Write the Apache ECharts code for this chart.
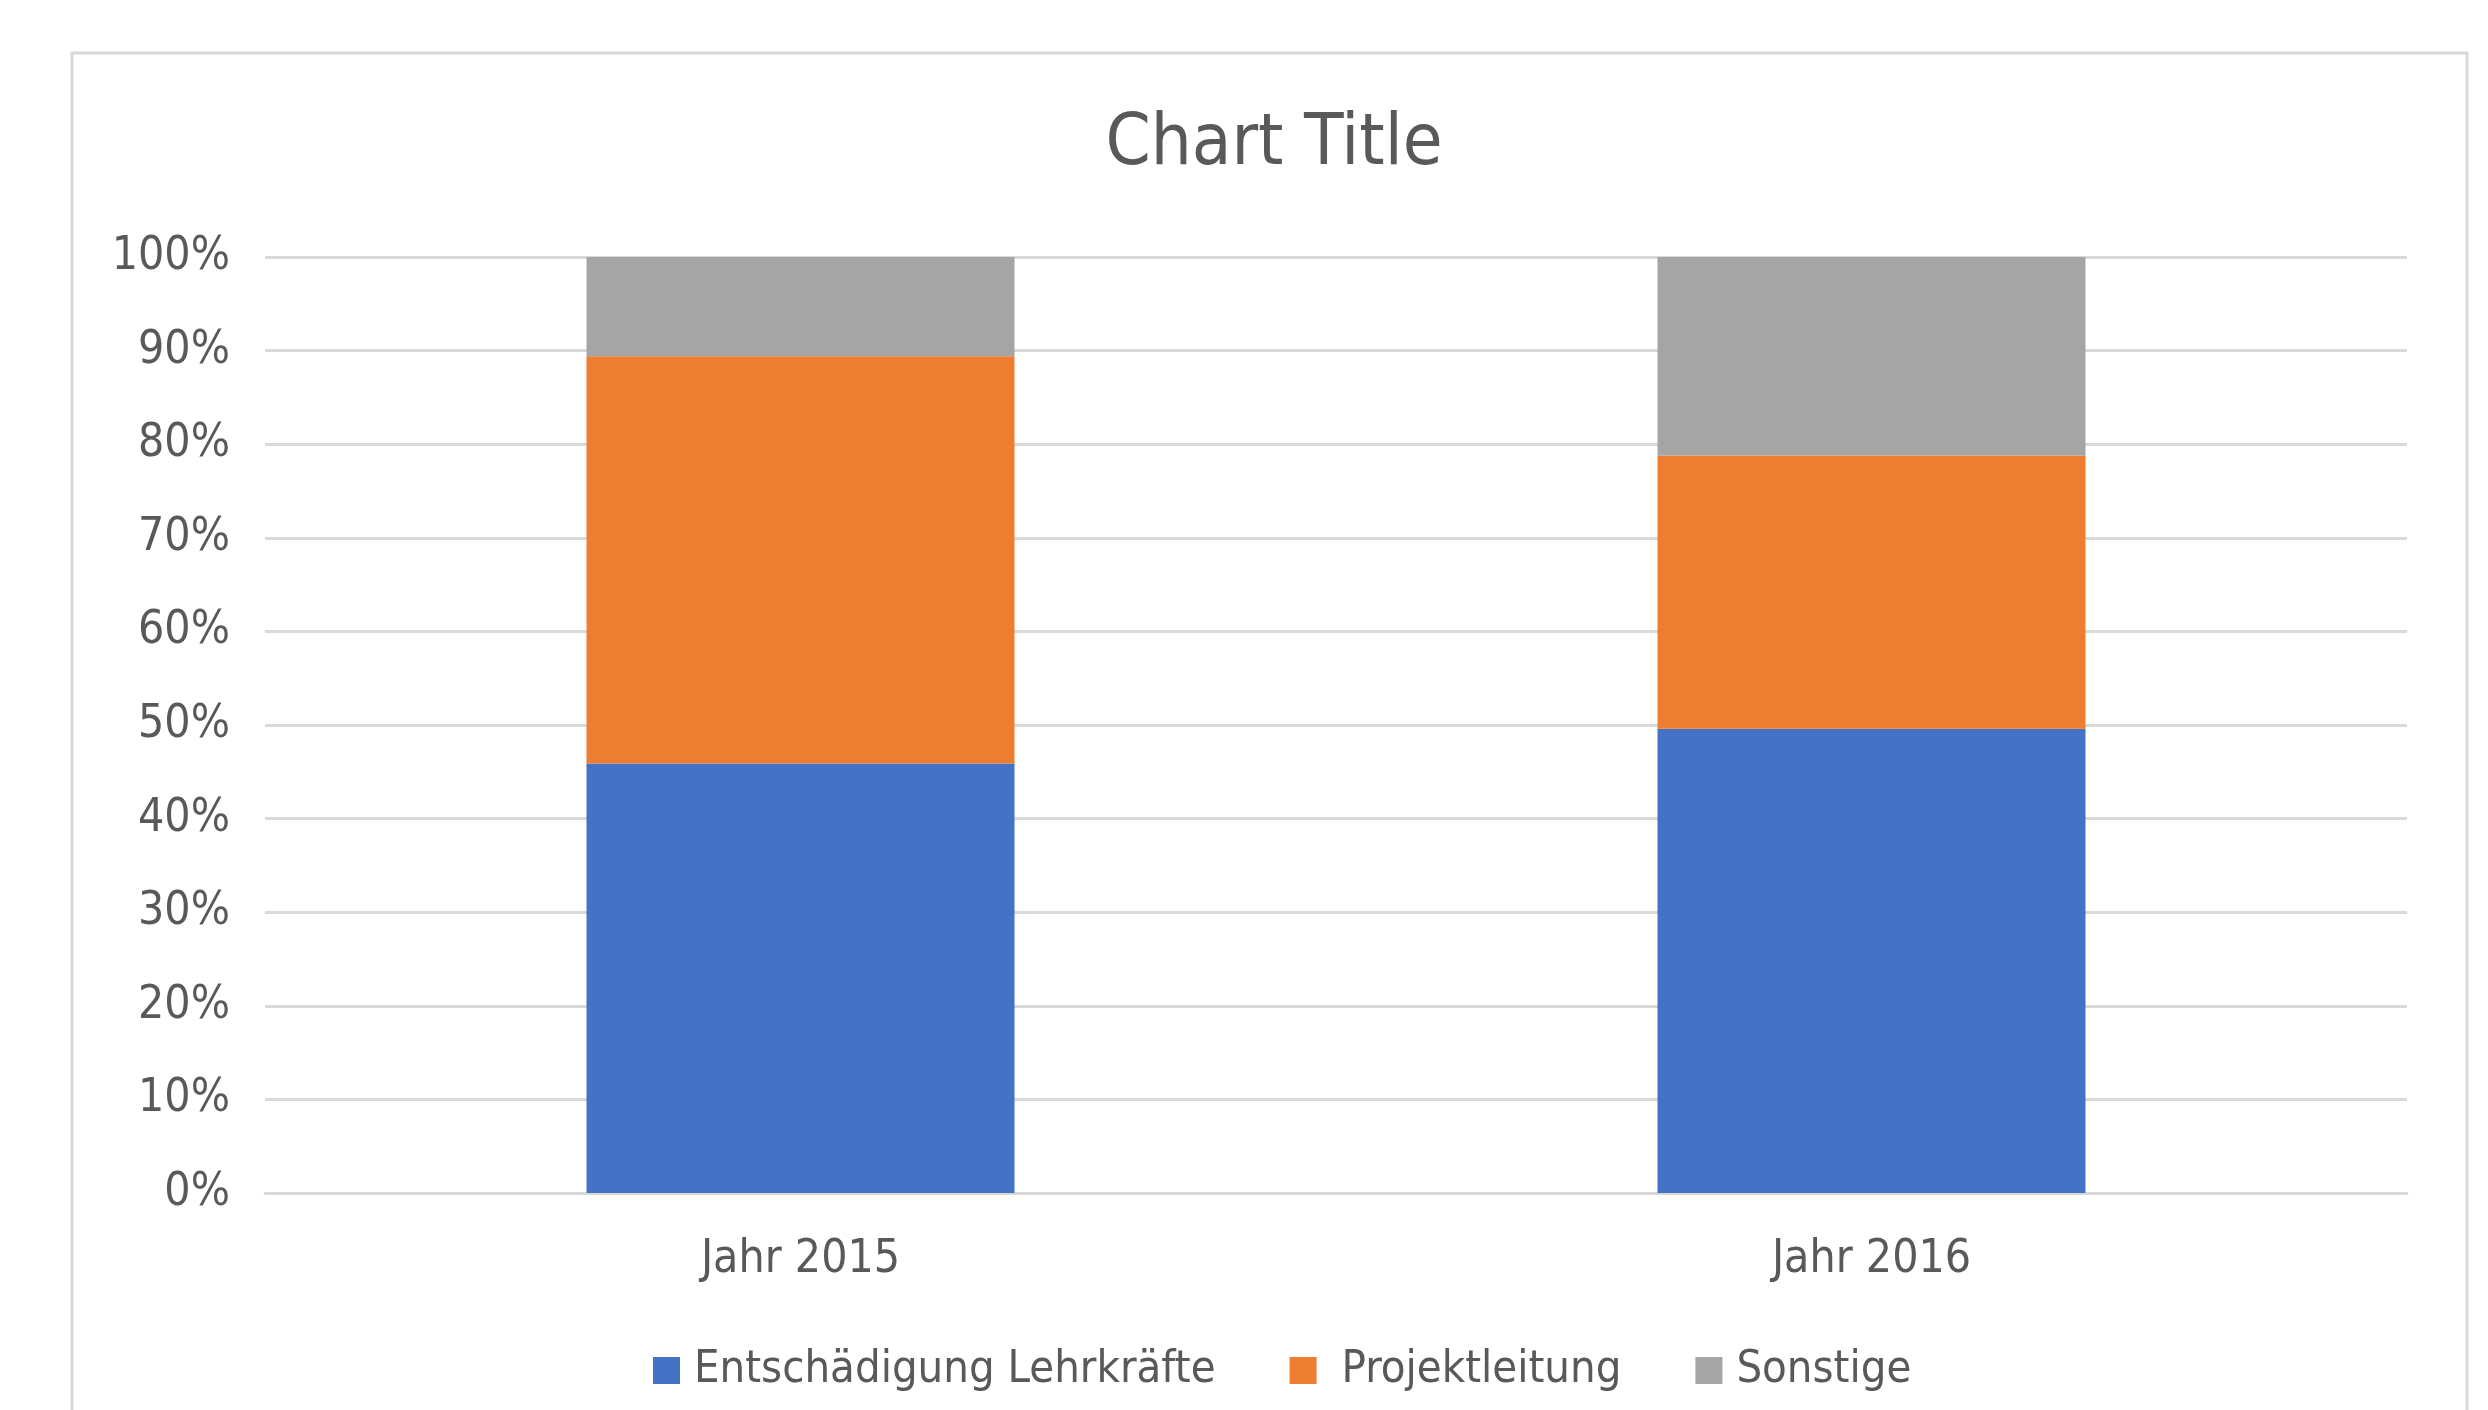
<!DOCTYPE html>
<html>
<head>
<meta charset="utf-8">
<script src="https://cdn.jsdelivr.net/npm/echarts@6/dist/echarts.min.js"></script>
<style>
  html, body { margin: 0; padding: 0; background: #fff; }
  #chart { width: 2488px; height: 1410px; }
</style>
</head>
<body>
<div id="chart"></div>
<script>
const categories = ["Jahr 2015", "Jahr 2016"];
const lehrkraefte = [45.9, 49.6];
const projektleitung = [43.5, 29.2];
const sonstige = [10.6, 21.2];
const seriesNames = ["Entschädigung Lehrkräfte", "Projektleitung", "Sonstige"];
const colors = ["#4472c4", "#ed7d31", "#a5a5a5"];

const FONT = "DejaVu Sans Condensed";
const textGrey = "#595959";

const chart = echarts.init(document.getElementById("chart"));

const barSeries = (name, data) => ({
  name: name,
  type: "bar",
  stack: "total",
  data: data,
  barWidth: 428,
  emphasis: { disabled: true }
});

chart.setOption({
  animation: false,
  color: colors,
  title: {
    text: "Chart Title",
    left: 1269,
    top: 104,
    textAlign: "center",
    textStyle: {
      fontFamily: FONT,
      fontSize: 72,
      fontWeight: "normal",
      color: textGrey
    }
  },
  graphic: [
    {
      type: "rect",
      silent: true,
      shape: { x: 72, y: 53, width: 2395, height: 1420 },
      style: { fill: null, stroke: "#d9d9d9", lineWidth: 3 }
    }
  ],
  legend: {
    bottom: 12,
    left: 648,
    itemWidth: 27,
    itemHeight: 27,
    itemGap: 74,
    icon: "rect",
    textStyle: {
      fontFamily: FONT,
      fontSize: 45,
      color: textGrey,
      padding: [0, 0, 0, 9]
    },
    data: [
      { name: seriesNames[0] },
      { name: seriesNames[1], textStyle: { padding: [0, 0, 0, 20] } },
      { name: seriesNames[2] }
    ]
  },
  grid: {
    left: 265,
    right: 81,
    top: 257,
    bottom: 217
  },
  xAxis: {
    type: "category",
    data: categories,
    axisLine: { lineStyle: { color: "#d9d9d9", width: 3 } },
    axisTick: { show: false },
    axisLabel: {
      margin: 44,
      fontFamily: FONT,
      fontSize: 46,
      color: textGrey
    }
  },
  yAxis: {
    type: "value",
    min: 0,
    max: 100,
    interval: 10,
    axisLine: { show: false },
    axisTick: { show: false },
    splitLine: { lineStyle: { color: "#d9d9d9", width: 3 } },
    axisLabel: {
      margin: 35,
      formatter: "{value}%",
      fontFamily: FONT,
      fontSize: 46,
      color: textGrey
    }
  },
  series: [
    barSeries(seriesNames[0], lehrkraefte),
    barSeries(seriesNames[1], projektleitung),
    barSeries(seriesNames[2], sonstige)
  ]
});
</script>
</body>
</html>
